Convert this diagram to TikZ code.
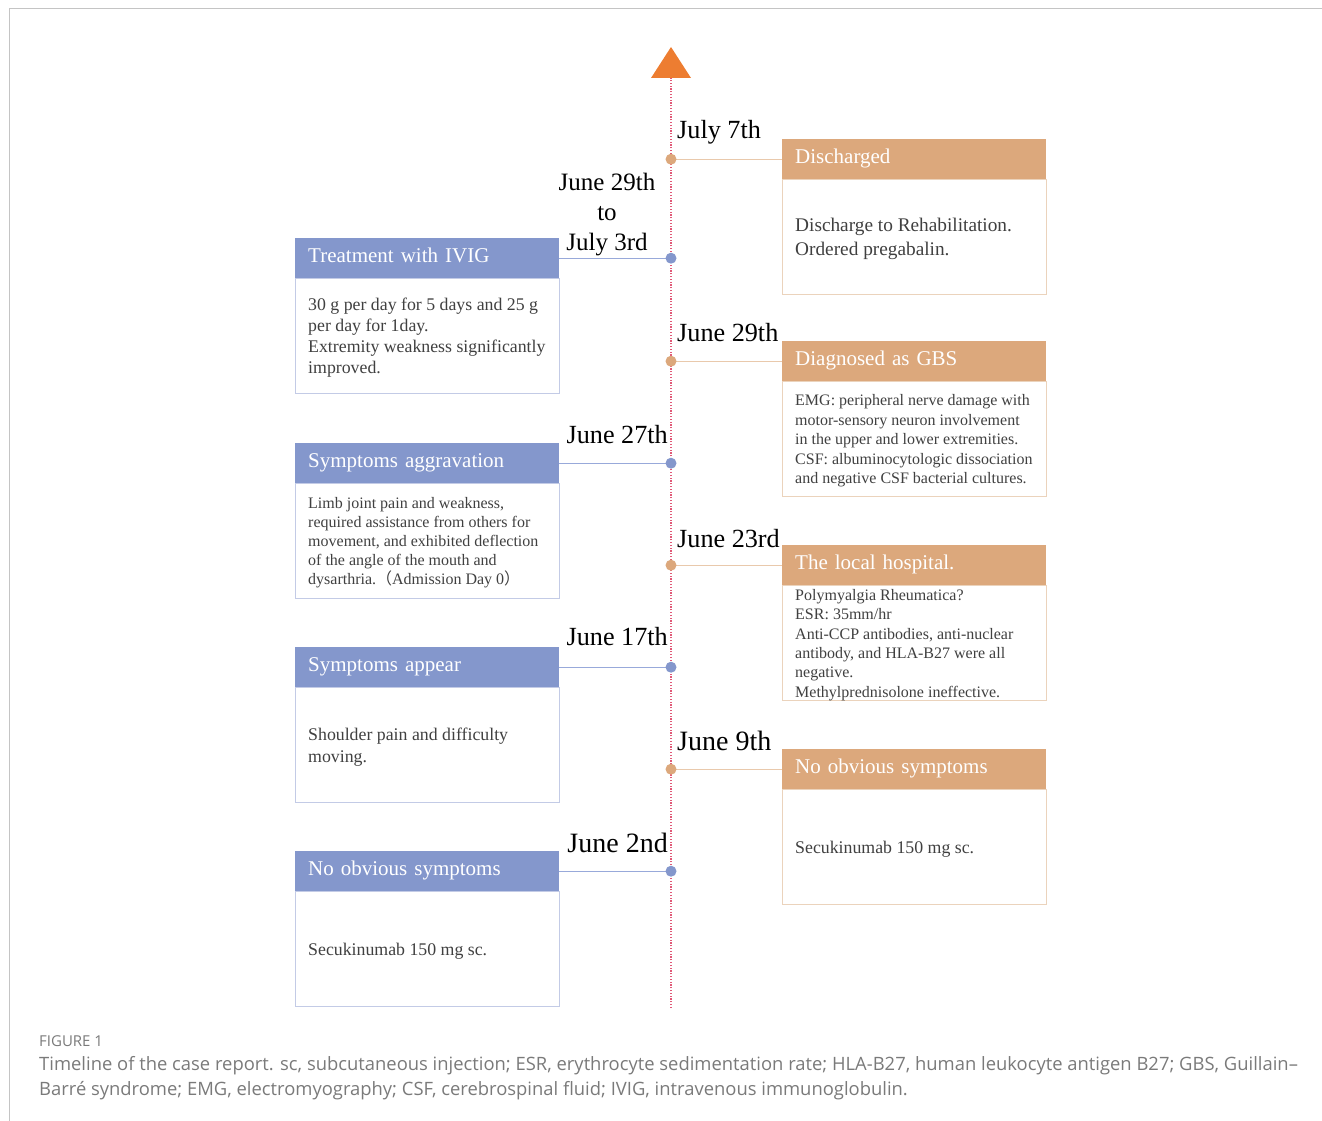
\documentclass[tikz,border=0pt]{standalone}
\usepackage{fontspec}
\setmainfont{Liberation Serif}
\newfontfamily\capfont{Open Sans}
\newfontfamily\cjk{Noto Sans CJK SC}
\definecolor{blueH}{HTML}{8497CC}
\definecolor{blueB}{HTML}{C3CBE6}
\definecolor{blueC}{HTML}{98A9DA}
\definecolor{orangeH}{HTML}{DCA87C}
\definecolor{orangeB}{HTML}{EBD3BC}
\definecolor{orangeC}{HTML}{E9C9AC}
\definecolor{tlpink}{HTML}{E05A78}
\definecolor{arroworange}{HTML}{ED7D31}
\definecolor{txtgray}{HTML}{404040}
\definecolor{capgray}{HTML}{7A7A7A}
\definecolor{framegray}{HTML}{C4C4C4}
\tikzset{
  headbox/.style={rectangle, text=white, font=\fontsize{21}{24}\selectfont,
    text width=238pt, inner xsep=13pt, inner ysep=0pt, minimum height=40pt,
    text height=15pt, text depth=7pt, align=left, anchor=north west},
  lhead/.style={headbox, fill=blueH},
  rhead/.style={headbox, fill=orangeH},
  bodybox/.style={rectangle, fill=white, line width=1pt, inner sep=0pt,
    minimum width=264pt, minimum height=115pt, anchor=north west},
  lbody/.style={bodybox, draw=blueB},
  rbody/.style={bodybox, draw=orangeB},
  bodytxt/.style={text=txtgray, align=left, inner sep=0pt, anchor=west},
  bdot/.style={circle, fill=blueH, inner sep=0pt, minimum size=11pt},
  odot/.style={circle, fill=orangeH, inner sep=0pt, minimum size=11pt},
  bconn/.style={draw=blueC, line width=1.3pt},
  oconn/.style={draw=orangeC, line width=1.3pt},
  datelbl/.style={font=\fontsize{26.2}{30}\selectfont, inner sep=0pt, text=black},
  bigdate/.style={datelbl, font=\fontsize{28}{30}\selectfont},
  captxt/.style={font=\capfont\fontsize{18.4}{22}\selectfont, text=capgray, inner sep=0pt, anchor=base west},
}
\begin{document}
\begin{tikzpicture}[x=1pt, y=-1pt]
\useasboundingbox (0,0) rectangle (1322,1121);
% frame
\draw[framegray, line width=1pt] (9,1121) -- (9,9) -- (1322,9);
% timeline
\coordinate (tbot) at (671,1008);
\coordinate (ttop) at (671,78);
\draw[tlpink, line width=1.3pt, dash pattern=on 1.3pt off 1.5pt] (tbot) -- (ttop);
\fill[arroworange] (651,78) -- (671,47) -- (691,78) -- cycle;

% right boxes
\node[rbody] (rb1) at (782,179) {};
\node[rhead] (rh1) at (782,139) {Discharged};
\node[rbody] (rb2) at (782,381) {};
\node[rhead] (rh2) at (782,341) {Diagnosed as GBS};
\node[rbody] (rb3) at (782,585) {};
\node[rhead] (rh3) at (782,545) {The local hospital.};
\node[rbody] (rb4) at (782,789) {};
\node[rhead] (rh4) at (782,749) {No obvious symptoms};

% left boxes
\node[lbody] (lb1) at (295,278) {};
\node[lhead] (lh1) at (295,238) {Treatment with IVIG};
\node[lbody] (lb2) at (295,483) {};
\node[lhead] (lh2) at (295,443) {Symptoms aggravation};
\node[lbody] (lb3) at (295,687) {};
\node[lhead] (lh3) at (295,647) {Symptoms appear};
\node[lbody] (lb4) at (295,891) {};
\node[lhead] (lh4) at (295,851) {No obvious symptoms};

% body texts
\node[bodytxt, font=\fontsize{19.3}{24}\selectfont] (rt1) at ([xshift=13pt, yshift=-2pt]rb1.west) {Discharge to Rehabilitation.\\Ordered pregabalin.};
\node[bodytxt, font=\fontsize{16}{19.5}\selectfont] (rt2) at ([xshift=13pt, yshift=-2pt]rb2.west) {EMG: peripheral nerve damage with\\motor-sensory neuron involvement\\in the upper and lower extremities.\\CSF: albuminocytologic dissociation\\and negative CSF bacterial cultures.};
\node[bodytxt, font=\fontsize{16}{19.3}\selectfont] (rt3) at ([xshift=13pt, yshift=-2pt]rb3.west) {Polymyalgia Rheumatica?\\ESR: 35mm/hr\\Anti-CCP antibodies, anti-nuclear\\antibody, and HLA-B27 were all\\negative.\\Methylprednisolone ineffective.};
\node[bodytxt, font=\fontsize{17.8}{22}\selectfont] (rt4) at ([xshift=13pt, yshift=-2pt]rb4.west) {Secukinumab 150 mg sc.};
\node[bodytxt, font=\fontsize{17.8}{21}\selectfont] (lt1) at ([xshift=13pt, yshift=-2pt]lb1.west) {30 g per day for 5 days and 25 g\\per day for 1day.\\Extremity weakness significantly\\improved.};
\node[bodytxt, font=\fontsize{16}{19}\selectfont] (lt2) at ([xshift=13pt, yshift=-2pt]lb2.west) {Limb joint pain and weakness,\\required assistance from others for\\movement, and exhibited deflection\\of the angle of the mouth and\\dysarthria.{\cjk（}Admission Day 0{\cjk）}};
\node[bodytxt, font=\fontsize{17.8}{22}\selectfont] (lt3) at ([xshift=13pt, yshift=-2pt]lb3.west) {Shoulder pain and difficulty\\moving.};
\node[bodytxt, font=\fontsize{17.8}{22}\selectfont] (lt4) at ([xshift=13pt, yshift=-2pt]lb4.west) {Secukinumab 150 mg sc.};

% connectors
\draw[oconn] (rh1.west) -- (rh1.west -| tbot);
\draw[bconn] (lh1.east) -- (lh1.east -| tbot);
\draw[oconn] (rh2.west) -- (rh2.west -| tbot);
\draw[bconn] (lh2.east) -- (lh2.east -| tbot);
\draw[oconn] (rh3.west) -- (rh3.west -| tbot);
\draw[bconn] (lh3.east) -- (lh3.east -| tbot);
\draw[oconn] (rh4.west) -- (rh4.west -| tbot);
\draw[bconn] (lh4.east) -- (lh4.east -| tbot);

% dots
\node[odot] (d1) at (rh1.west -| tbot) {};
\node[bdot] (d2) at (lh1.east -| tbot) {};
\node[odot] (d3) at (rh2.west -| tbot) {};
\node[bdot] (d4) at (lh2.east -| tbot) {};
\node[odot] (d5) at (rh3.west -| tbot) {};
\node[bdot] (d6) at (lh3.east -| tbot) {};
\node[odot] (d7) at (rh4.west -| tbot) {};
\node[bdot] (d8) at (lh4.east -| tbot) {};

% dates
\node[datelbl, anchor=base west] (t1) at (677,139) {July 7th};
\node[datelbl, font=\fontsize{25}{30}\selectfont, anchor=north, align=center] (t2) at (607,173) {June 29th\\to\\July 3rd};
\node[datelbl, anchor=base west] (t3) at (677,341) {June 29th};
\node[datelbl, anchor=base east] (t4) at (668,443) {June 27th};
\node[datelbl, anchor=base west] (t5) at (677,547) {June 23rd};
\node[datelbl, anchor=base east] (t6) at (668,645) {June 17th};
\node[bigdate, anchor=base west] (t7) at (677,750) {June 9th};
\node[bigdate, anchor=base east] (t8) at (668,852) {June 2nd};

% caption
\node[font=\capfont\fontsize{15}{17}\selectfont, text=capgray, inner sep=0pt, anchor=base west] (fig) at (39,1046) {FIGURE 1};
\node[captxt] (cap1) at (39,1070) {Timeline of the case report. sc, subcutaneous injection; ESR, erythrocyte sedimentation rate; HLA-B27, human leukocyte antigen B27; GBS, Guillain–};
\node[captxt] (cap2) at (39,1095) {Barré syndrome; EMG, electromyography; CSF, cerebrospinal fluid; IVIG, intravenous immunoglobulin.};
\end{tikzpicture}
\end{document}
